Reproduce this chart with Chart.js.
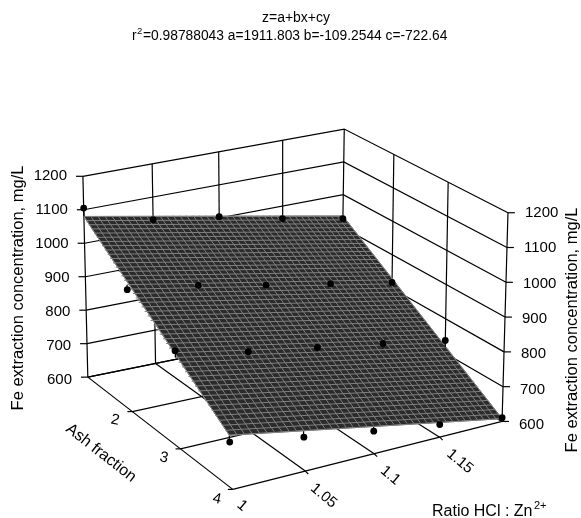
<!DOCTYPE html>
<html lang="en">
<head>
    <meta charset="UTF-8">
    <title>Fe extraction</title>
    <script src="https://cdn.jsdelivr.net/npm/chart.js@4/dist/chart.umd.min.js"></script>
    <style>
        html, body { margin: 0; padding: 0; background: #fff; }
        canvas { display: block; }
    </style>
</head>
<body>
    <canvas id="plot" width="581" height="518"></canvas>
    <script>
        // axis ticks
        const ratioTicks = [1, 1.05, 1.1, 1.15, 1.2];
        const ratioLabels = ['1', '1.05', '1.1', '1.15'];
        const ashTicks = [1, 2, 3, 4];
        const ashLabels = ['2', '3', '4'];
        const zTicks = [600, 700, 800, 900, 1000, 1100, 1200];

        // measured points, one list per ash fraction, same order as ratioTicks
        const feAsh1 = [1105, 1032, 1004, 962, 927];
        const feAsh2 = [956, 927, 887, 852, 818];
        const feAsh3 = [881, 832, 800, 769, 737];
        const feAsh4 = [733, 696, 664, 636, 611];
        const feRows = [feAsh1, feAsh2, feAsh3, feAsh4];

        // fitted plane read at its four corners
        const planeAtRatio1 = [1080, 752];   // ash 1, ash 4
        const planeAtRatio12 = [935, 608];   // ash 1, ash 4

        const titleLine1 = 'z=a+bx+cy';
        const titleLine2 = '=0.98788043 a=1911.803 b=-109.2544 c=-722.64';
        const zTitle = 'Fe extraction concentration, mg/L';

        // box corners on the page: ratio 1/ash 1, ratio 1.2/ash 1, ratio 1.2/ash 4, ratio 1/ash 4
        const floorBox = [[85, 379], [342, 327], [505, 424], [232, 493]];
        const topBox = [[80, 175], [345, 127], [511, 212], [218, 276]];

        const MESH_RATIO = 40, MESH_ASH = 48;

        // unit square -> quad (perspective)
        function quadMap(q) {
            const [p0, p1, p2, p3] = q;
            const dx1 = p1[0] - p2[0], dx2 = p3[0] - p2[0], sx = p0[0] - p1[0] + p2[0] - p3[0];
            const dy1 = p1[1] - p2[1], dy2 = p3[1] - p2[1], sy = p0[1] - p1[1] + p2[1] - p3[1];
            const den = dx1 * dy2 - dx2 * dy1;
            const g = (sx * dy2 - dx2 * sy) / den;
            const h = (dx1 * sy - sx * dy1) / den;
            return (u, v) => {
                const d = g * u + h * v + 1;
                return [((p1[0] - p0[0] + g * p1[0]) * u + (p3[0] - p0[0] + h * p3[0]) * v + p0[0]) / d,
                        ((p1[1] - p0[1] + g * p1[1]) * u + (p3[1] - p0[1] + h * p3[1]) * v + p0[1]) / d];
            };
        }
        const floorMap = quadMap(floorBox), topMap = quadMap(topBox);

        function project(ratio, ash, z) {
            const u = (ratio - 1) / 0.2, v = (ash - 1) / 3, w = (z - 600) / 600;
            const a = floorMap(u, v), b = topMap(u, v);
            return { x: a[0] + (b[0] - a[0]) * w, y: a[1] + (b[1] - a[1]) * w };
        }

        function planeZ(ratio, ash) {
            const u = (ratio - 1) / 0.2, v = (ash - 1) / 3;
            const z1 = planeAtRatio1[0] + (planeAtRatio1[1] - planeAtRatio1[0]) * v;
            const z2 = planeAtRatio12[0] + (planeAtRatio12[1] - planeAtRatio12[0]) * v;
            return z1 + (z2 - z1) * u;
        }

        // painted in the order pushed, list is reversed for Chart.js at the end
        const layers = [];
        function line(points, color, width) {
            layers.push({ data: points, showLine: true, borderColor: color || '#000', borderWidth: width || 1.2,
                          pointRadius: 0, fill: false, tension: 0 });
        }
        const zMin = 600, zMax = 1200, rMin = 1, rMax = 1.2, aMin = 1, aMax = 4;

        // back walls
        zTicks.forEach(z => {
            line([project(rMin, aMin, z), project(rMax, aMin, z), project(rMax, aMax, z)]);
        });
        ratioTicks.forEach(r => line([project(r, aMin, zMin), project(r, aMin, zMax)]));
        ashTicks.slice(1).forEach(a => line([project(rMax, a, zMin), project(rMax, a, zMax)]));

        // floor
        ratioTicks.forEach(r => line([project(r, aMin, zMin), project(r, aMax, zMin)]));
        ashTicks.forEach(a => line([project(rMin, a, zMin), project(rMax, a, zMin)]));

        // tick marks
        zTicks.forEach(z => {
            const l = project(rMin, aMin, z), r = project(rMax, aMax, z);
            line([{ x: l.x - 7, y: l.y }, l]);
            line([r, { x: r.x + 7, y: r.y }]);
        });
        ashTicks.slice(1).forEach(a => {
            const p = project(rMin, a, zMin);
            line([{ x: p.x - 5, y: p.y }, p]);
        });
        ratioTicks.slice(1, 4).forEach(r => {
            const p = project(r, aMax, zMin);
            line([p, { x: p.x + 3, y: p.y + 3 }]);
        });

        // stems of points under the plane go behind it
        feRows.forEach((row, i) => row.forEach((z, j) => {
            const pz = planeZ(ratioTicks[j], ashTicks[i]);
            if (z < pz) line([project(ratioTicks[j], ashTicks[i], z), project(ratioTicks[j], ashTicks[i], pz)]);
        }));

        // plane
        const planeCorner = (r, a) => project(r, a, planeZ(r, a));
        layers.push({
            data: [planeCorner(rMin, aMin), planeCorner(rMax, aMin), planeCorner(rMax, aMax), planeCorner(rMin, aMax), planeCorner(rMin, aMin)],
            showLine: true, borderColor: '#808080', borderWidth: 1, backgroundColor: '#2b2b2b',
            pointRadius: 0, fill: 'shape', tension: 0
        });
        for (let i = 0; i <= MESH_RATIO; i++) {
            const r = rMin + (rMax - rMin) * i / MESH_RATIO;
            line([planeCorner(r, aMin), planeCorner(r, aMax)], '#808080', 1);
        }
        for (let i = 0; i <= MESH_ASH; i++) {
            const a = aMin + (aMax - aMin) * i / MESH_ASH;
            line([planeCorner(rMin, a), planeCorner(rMax, a)], '#808080', 1);
        }

        // stems above the plane, then the points
        feRows.forEach((row, i) => row.forEach((z, j) => {
            const pz = planeZ(ratioTicks[j], ashTicks[i]);
            if (z >= pz) line([project(ratioTicks[j], ashTicks[i], z), project(ratioTicks[j], ashTicks[i], pz)]);
        }));
        const measured = [];
        feRows.forEach((row, i) => row.forEach((z, j) => measured.push(project(ratioTicks[j], ashTicks[i], z))));
        layers.push({ data: measured, showLine: false, pointRadius: 3.4, pointBackgroundColor: '#000', pointBorderWidth: 0 });

        // text is drawn on top with a small plugin
        const FONT = '"Liberation Sans", Arial, sans-serif';
        function text(c, str, x, y, size, align, angle) {
            c.save();
            c.translate(x, y);
            c.rotate((angle || 0) * Math.PI / 180);
            c.font = size + 'px ' + FONT;
            c.fillStyle = '#000';
            c.textAlign = align || 'center';
            c.textBaseline = 'middle';
            c.fillText(str, 0, 0);
            c.restore();
        }
        const labelPlugin = {
            id: 'labels',
            afterDatasetsDraw(chart) {
                const c = chart.ctx;
                text(c, titleLine1, 296, 18, 14);
                text(c, 'r', 132, 36, 13.8, 'left');
                text(c, '2', 137, 31, 9.5, 'left');
                text(c, titleLine2, 143, 36, 13.8, 'left');

                zTicks.forEach(z => {
                    const l = project(rMin, aMin, z), r = project(rMax, aMax, z);
                    text(c, String(z), l.x - 13, l.y + 1, 15, 'right');
                    text(c, String(z), r.x + 14, r.y + 1, 15, 'left');
                });
                ashLabels.forEach((s, i) => {
                    const p = project(rMin, ashTicks[i + 1], zMin);
                    text(c, s, p.x - 15, p.y + 6, 15, 'center', 12);
                });
                ratioLabels.forEach((s, i) => {
                    const p = project(ratioTicks[i], aMax, zMin);
                    text(c, s, p.x + 7, p.y + (i ? 12 : 10), 15, 'left', 40);
                });
                text(c, 'Ash fraction', 101, 453, 16, 'center', 38);
                text(c, 'Ratio HCl : Zn', 432, 512, 16, 'left');
                text(c, '2+', 534, 506, 11, 'left');
                text(c, zTitle, 18, 288, 16.5, 'center', -90);
                text(c, zTitle, 572, 330, 16.5, 'center', -90);
            }
        };

        new Chart(document.getElementById('plot').getContext('2d'), {
            type: 'scatter',
            data: { datasets: layers.slice().reverse() },
            options: {
                responsive: false,
                animation: false,
                layout: { padding: 0 },
                plugins: { legend: { display: false }, tooltip: { enabled: false }, title: { display: false } },
                scales: {
                    x: { type: 'linear', display: false, min: 0, max: 581 },
                    y: { type: 'linear', display: false, min: 0, max: 518, reverse: true }
                }
            },
            plugins: [labelPlugin]
        });
    </script>
</body>
</html>
